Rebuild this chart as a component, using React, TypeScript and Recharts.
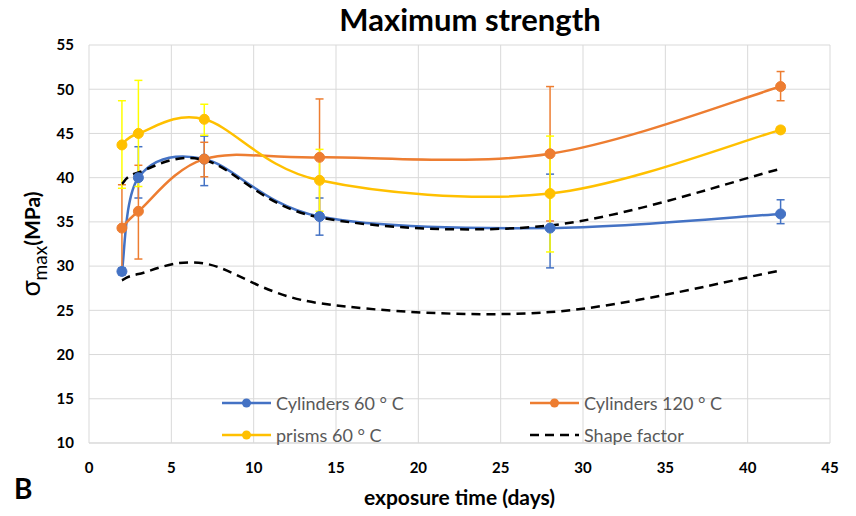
import React from "react";
import {
  LineChart,
  Line,
  XAxis,
  YAxis,
  CartesianGrid,
  ErrorBar,
  Legend,
} from "recharts";

// exposure time (days)
const days = [2, 3, 7, 14, 28, 42];

const cyl60 = [29.4, 40.0, 42.1, 35.6, 34.3, 35.9];
const cyl60Err = [
  [0.4, 0.4],
  [2.3, 3.5],
  [3.0, 2.6],
  [2.1, 2.1],
  [4.5, 6.1],
  [1.1, 1.6],
];

const cyl120 = [34.3, 36.2, 42.1, 42.3, 42.7, 50.3];
const cyl120Err = [
  [4.9, 4.9],
  [5.4, 5.2],
  [2.0, 1.9],
  [6.6, 6.6],
  [7.6, 7.6],
  [1.6, 1.7],
];

const prisms60 = [43.7, 45.0, 46.6, 39.7, 38.2, 45.4];
const prisms60Err = [
  [4.9, 5.0],
  [6.0, 6.0],
  [1.8, 1.7],
  [3.5, 3.5],
  [6.6, 6.5],
  [0.3, 0.3],
];

// two shape-factor curves, one legend entry
const shapeUpper = [39.3, 40.6, 42.0, 35.5, 34.6, 41.0];
const shapeLower = [28.4, 29.1, 30.3, 25.8, 24.8, 29.5];

const xTicks = [0, 5, 10, 15, 20, 25, 30, 35, 40, 45];
const yTicks = [10, 15, 20, 25, 30, 35, 40, 45, 50, 55];

const BLUE = "#4472C4";
const ORANGE = "#ED7D31";
const GOLD = "#FFC000";
const YELLOW = "#FFFF00";
const FONT = "Lato, 'Open Sans', sans-serif";

const data = days.map((d, i) => ({
  day: d,
  cyl60: cyl60[i],
  cyl60Err: cyl60Err[i],
  cyl120: cyl120[i],
  cyl120Err: cyl120Err[i],
  prisms60: prisms60[i],
  prisms60Err: prisms60Err[i],
  shapeUpper: shapeUpper[i],
  shapeLower: shapeLower[i],
}));

// Excel-like smoothed line (Catmull-Rom converted to beziers)
const excelSmooth = (context: any) => {
  let pts: number[][] = [];
  return {
    areaStart() {},
    areaEnd() {},
    lineStart() {
      pts = [];
    },
    point(x: number, y: number) {
      pts.push([+x, +y]);
    },
    lineEnd() {
      const n = pts.length;
      if (!n) return;
      context.moveTo(pts[0][0], pts[0][1]);
      for (let i = 0; i < n - 1; i++) {
        const p0 = pts[Math.max(i - 1, 0)];
        const p1 = pts[i];
        const p2 = pts[i + 1];
        const p3 = pts[Math.min(i + 2, n - 1)];
        context.bezierCurveTo(
          p1[0] + (p2[0] - p0[0]) / 6,
          p1[1] + (p2[1] - p0[1]) / 6,
          p2[0] - (p3[0] - p1[0]) / 6,
          p2[1] - (p3[1] - p1[1]) / 6,
          p2[0],
          p2[1]
        );
      }
    },
  };
};

const legendItems = [
  { label: "Cylinders 60 ° C", color: BLUE, dashed: false, left: 0, top: 0 },
  { label: "Cylinders 120 ° C", color: ORANGE, dashed: false, left: 308, top: 0 },
  { label: "prisms 60 ° C", color: GOLD, dashed: false, left: 0, top: 32 },
  { label: "Shape factor", color: "#000", dashed: true, left: 308, top: 32 },
];

const renderLegend = () => (
  <div style={{ position: "relative", width: 560, height: 60 }}>
    {legendItems.map((it) => (
      <div
        key={it.label}
        style={{
          position: "absolute",
          left: it.left,
          top: it.top,
          height: 22,
          display: "flex",
          alignItems: "center",
          fontFamily: FONT,
          fontSize: 18,
          color: "#595959",
          whiteSpace: "nowrap",
        }}
      >
        <svg width={52} height={14} style={{ marginRight: 3 }}>
          {it.dashed ? (
            <line x1={1} y1={7} x2={50} y2={7} stroke="#000" strokeWidth={2.5} strokeDasharray="9 6" />
          ) : (
            <>
              <line x1={1} y1={7} x2={50} y2={7} stroke={it.color} strokeWidth={2.5} />
              <circle cx={25.5} cy={7} r={4.5} fill={it.color} />
            </>
          )}
        </svg>
        <span>{it.label}</span>
      </div>
    ))}
  </div>
);

const YLabel = (props: any) => {
  const vb = props.viewBox || { x: 0, y: 45, height: 398 };
  const cy = vb.y + vb.height / 2;
  return (
    <text
      x={40}
      y={cy}
      transform={`rotate(-90, 40, ${cy})`}
      textAnchor="middle"
      fontFamily={FONT}
      fill="#000"
    >
      <tspan fontSize={27}>σ</tspan>
      <tspan fontSize={19} dy={7}>max</tspan>
      <tspan fontSize={21} fontWeight="bold" dy={-7}>(MPa)</tspan>
    </text>
  );
};

export default function App(): JSX.Element {
  return (
    <div
      style={{
        position: "absolute",
        left: 0,
        top: 0,
        width: 856,
        height: 516,
        background: "#fff",
      }}
    >
      <div
        style={{
          position: "absolute",
          left: 0,
          width: 940,
          top: 0,
          textAlign: "center",
          fontFamily: FONT,
          fontWeight: "bold",
          fontSize: 31,
          color: "#000",
        }}
      >
        Maximum strength
      </div>
      <div
        style={{
          position: "absolute",
          left: 14,
          top: 471,
          fontFamily: FONT,
          fontWeight: "bold",
          fontSize: 28,
          color: "#000",
        }}
      >
        B
      </div>
      <LineChart
        width={856}
        height={516}
        data={data}
        margin={{ top: 45, right: 26, bottom: 33, left: 0 }}
      >
        <CartesianGrid stroke="#d9d9d9" strokeWidth={1} />
        <XAxis
          dataKey="day"
          type="number"
          domain={[0, 45]}
          ticks={xTicks}
          height={40}
          axisLine={{ stroke: "#d9d9d9" }}
          tickLine={false}
          tickSize={0}
          tickMargin={19}
          tick={{ fill: "#000", fontSize: 15, fontWeight: "bold", fontFamily: FONT }}
          label={{
            value: "exposure time (days)",
            position: "insideBottom",
            offset: -22,
            fill: "#000",
            fontSize: 21,
            fontWeight: "bold",
            fontFamily: FONT,
          }}
        />
        <YAxis
          type="number"
          domain={[10, 55]}
          ticks={yTicks}
          width={89}
          axisLine={false}
          tickLine={false}
          tickSize={0}
          tickMargin={15}
          tick={{ fill: "#000", fontSize: 15, fontWeight: "bold", fontFamily: FONT }}
          label={<YLabel />}
        />
        <Legend
          layout="horizontal"
          verticalAlign="middle"
          align="center"
          content={renderLegend}
          wrapperStyle={{ position: "absolute", left: 221, top: 392, width: 560, height: 60 }}
        />

        <Line
          dataKey="cyl60"
          type={excelSmooth as any}
          stroke={BLUE}
          strokeWidth={2.5}
          dot={{ r: 5, fill: BLUE, stroke: BLUE, strokeWidth: 1 }}
          activeDot={false}
          isAnimationActive={false}
        >
          <ErrorBar dataKey="cyl60Err" direction="y" width={4} stroke={BLUE} strokeWidth={1.5} />
        </Line>
        <Line
          dataKey="cyl120"
          type={excelSmooth as any}
          stroke={ORANGE}
          strokeWidth={2.5}
          dot={{ r: 5, fill: ORANGE, stroke: ORANGE, strokeWidth: 1 }}
          activeDot={false}
          isAnimationActive={false}
        >
          <ErrorBar dataKey="cyl120Err" direction="y" width={4} stroke={ORANGE} strokeWidth={1.5} />
        </Line>
        <Line
          dataKey="prisms60"
          type={excelSmooth as any}
          stroke={GOLD}
          strokeWidth={2.5}
          dot={{ r: 5, fill: GOLD, stroke: GOLD, strokeWidth: 1 }}
          activeDot={false}
          isAnimationActive={false}
        >
          <ErrorBar dataKey="prisms60Err" direction="y" width={4} stroke={YELLOW} strokeWidth={1.5} />
        </Line>
        <Line
          dataKey="shapeUpper"
          type={excelSmooth as any}
          stroke="#000"
          strokeWidth={2.5}
          strokeDasharray="9 6"
          dot={false}
          activeDot={false}
          legendType="none"
          isAnimationActive={false}
        />
        <Line
          dataKey="shapeLower"
          type={excelSmooth as any}
          stroke="#000"
          strokeWidth={2.5}
          strokeDasharray="9 6"
          dot={false}
          activeDot={false}
          legendType="none"
          isAnimationActive={false}
        />
      </LineChart>
    </div>
  );
}
